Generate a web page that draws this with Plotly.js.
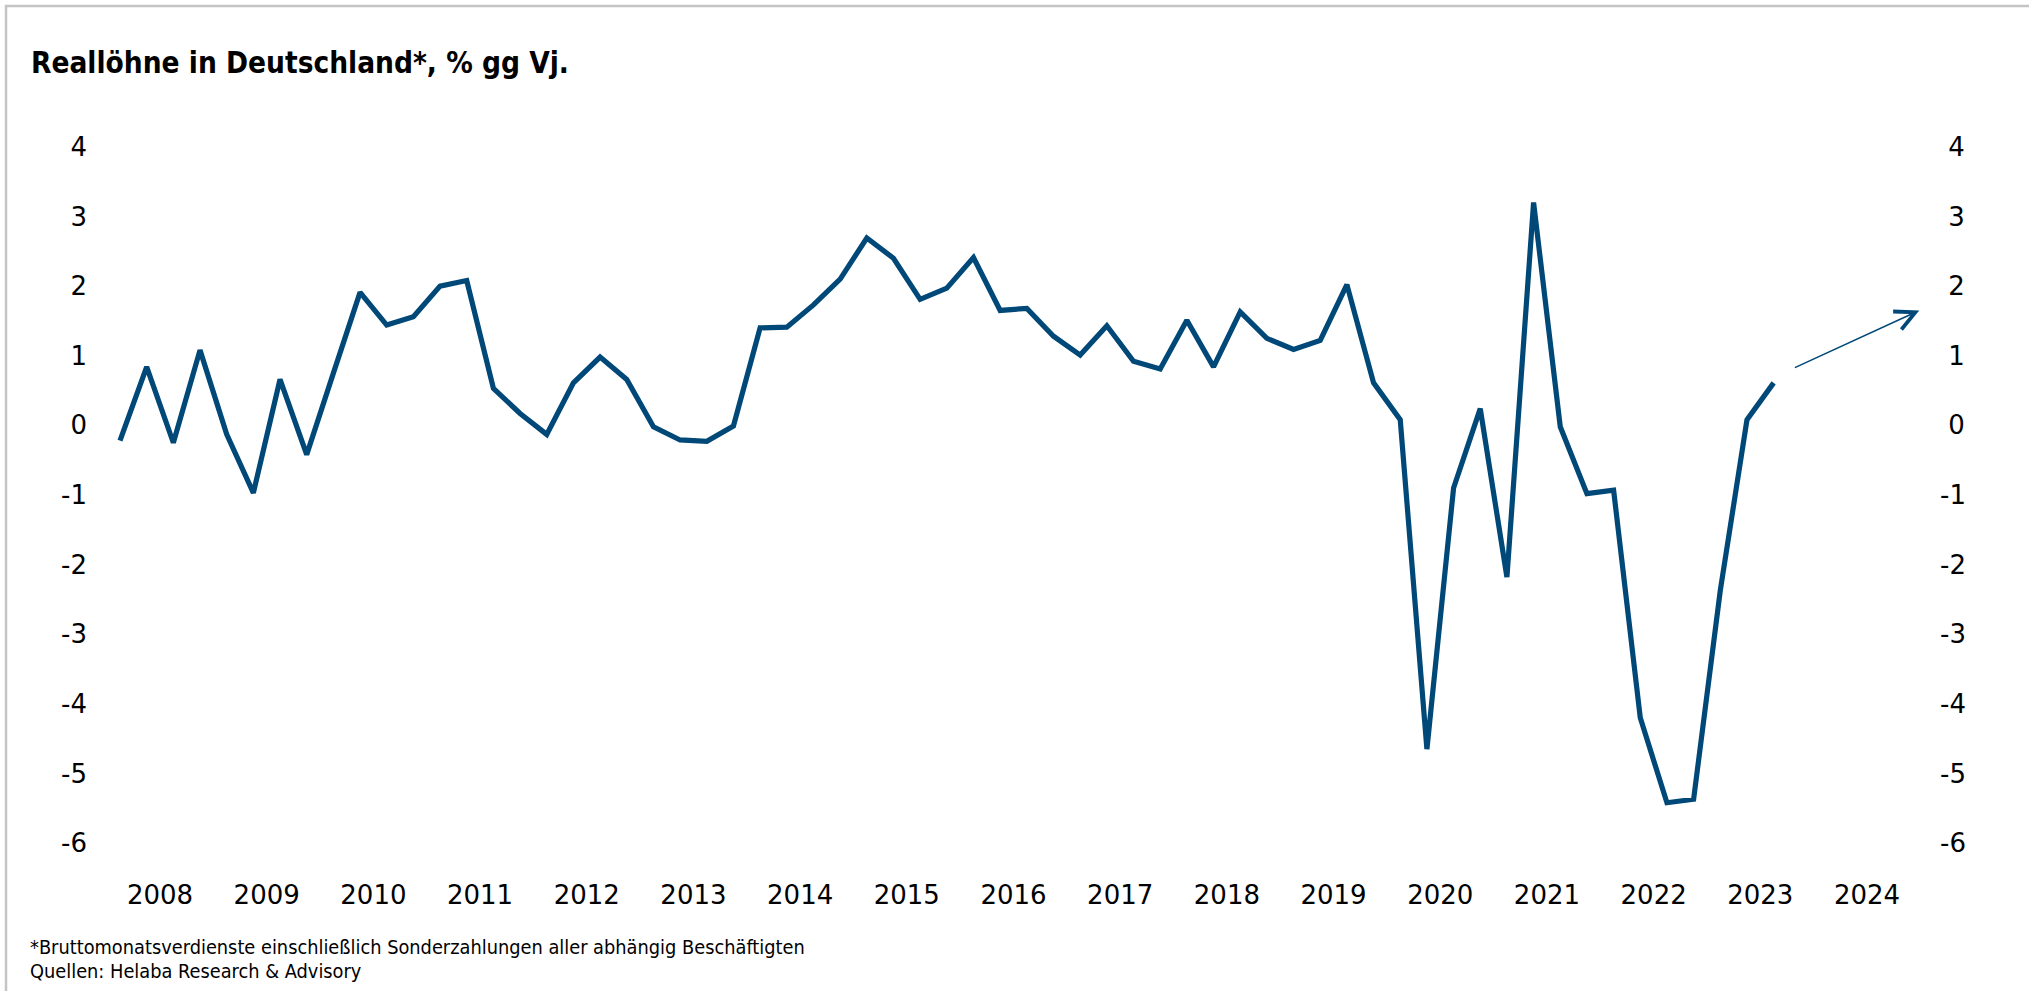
<!DOCTYPE html>
<html>
<head>
<meta charset="utf-8">
<script src="https://cdn.plot.ly/plotly-3.0.1.min.js"></script>
<style>
html,body{margin:0;padding:0;background:#fff;}
#chart{width:2029px;height:991px;}
</style>
</head>
<body>
<div id="chart"></div>
<script>
// ---- data ----
const quarterLabels = [
 "2008-Q1","2008-Q2","2008-Q3","2008-Q4",
 "2009-Q1","2009-Q2","2009-Q3","2009-Q4",
 "2010-Q1","2010-Q2","2010-Q3","2010-Q4",
 "2011-Q1","2011-Q2","2011-Q3","2011-Q4",
 "2012-Q1","2012-Q2","2012-Q3","2012-Q4",
 "2013-Q1","2013-Q2","2013-Q3","2013-Q4",
 "2014-Q1","2014-Q2","2014-Q3","2014-Q4",
 "2015-Q1","2015-Q2","2015-Q3","2015-Q4",
 "2016-Q1","2016-Q2","2016-Q3","2016-Q4",
 "2017-Q1","2017-Q2","2017-Q3","2017-Q4",
 "2018-Q1","2018-Q2","2018-Q3","2018-Q4",
 "2019-Q1","2019-Q2","2019-Q3","2019-Q4",
 "2020-Q1","2020-Q2","2020-Q3","2020-Q4",
 "2021-Q1","2021-Q2","2021-Q3","2021-Q4",
 "2022-Q1","2022-Q2","2022-Q3","2022-Q4",
 "2023-Q1","2023-Q2","2023-Q3"
];
const realWageGrowth = [
 -0.22, 0.84, -0.25, 1.08,
 -0.13, -0.97, 0.66, -0.42,
  0.75, 1.91, 1.44, 1.56,
  2.00, 2.08, 0.53, 0.17,
 -0.13, 0.61, 0.98, 0.66,
 -0.02, -0.21, -0.23, -0.01,
  1.40, 1.41, 1.73, 2.10,
  2.69, 2.40, 1.81, 1.97,
  2.41, 1.65, 1.68, 1.28,
  1.01, 1.43, 0.92, 0.81,
  1.51, 0.84, 1.63, 1.25,
  1.09, 1.22, 2.02, 0.61,
  0.08, -4.65, -0.90, 0.24,
 -2.18, 3.20, -0.02, -0.98,
 -0.93, -4.20, -5.42, -5.37,
 -2.37, 0.08, 0.61
];
const yearTickLabels = ["2008","2009","2010","2011","2012","2013","2014","2015","2016",
                        "2017","2018","2019","2020","2021","2022","2023","2024"];
const yTickValues = [-6,-5,-4,-3,-2,-1,0,1,2,3,4];
const yTickLabels = ["-6","-5","-4","-3","-2","-1","0","1","2","3","4"];
// trend arrow (tail, tip) in axis units
const arrowX = [2023.81, 2024.99];
const arrowY = [0.82, 1.65];

const titleText = "Reallöhne in Deutschland*, % gg Vj.";
const footnoteLines = [
 "*Bruttomonatsverdienste einschließlich Sonderzahlungen aller abhängig Beschäftigten",
 "Quellen: Helaba Research & Advisory"
];

// ---- build ----
const W = 2029, H = 991;
const M = {l: 96, r: 98, t: 112, b: 120};
const PW = W - M.l - M.r, PH = H - M.t - M.b;
const px2paperX = p => (p - M.l) / PW;
const px2paperY = p => (H - M.b - p) / PH;

const xVals = quarterLabels.map(s => {
  const [y, q] = s.split("-Q");
  return +y + (+q - 0.5) / 4;
});
const xTickVals = yearTickLabels.map(y => +y + 0.5);

const lineColor = "#004878";
const tickFont = {family: "DejaVu Sans, Verdana, sans-serif", size: 26, color: "#000"};
const textFamily = "DejaVu Sans Condensed, Liberation Sans Narrow, Liberation Sans, sans-serif";

const traces = [
  {
    x: xVals, y: realWageGrowth, type: "scatter", mode: "lines",
    line: {color: lineColor, width: 5.2},
    hoverinfo: "x+y", showlegend: false
  },
  { // empty trace that only carries the right-hand axis
    x: [null], y: [null], type: "scatter", mode: "lines", yaxis: "y2",
    hoverinfo: "skip", showlegend: false
  }
];

const rightLabels = yTickLabels.map(t => t.startsWith("-") ? t : "\u00A0" + t);

const layout = {
  width: W, height: H,
  margin: M,
  paper_bgcolor: "#fff", plot_bgcolor: "#fff",
  showlegend: false,
  title: {
    text: "<b>" + titleText + "</b>",
    font: {family: textFamily, size: 29.5, color: "#000"},
    xref: "container", yref: "container",
    x: 31 / W, xanchor: "left",
    y: 1 - 63 / H, yanchor: "middle"
  },
  xaxis: {
    range: [2007.9, 2025.1], showgrid: false, zeroline: false, showline: false,
    ticks: "", tickmode: "array", tickvals: xTickVals, ticktext: yearTickLabels,
    tickfont: tickFont, ticklabelstandoff: 6, fixedrange: true
  },
  yaxis: {
    range: [-6.4, 4.5], showgrid: false, zeroline: false, showline: false,
    ticks: "", tickmode: "array", tickvals: yTickValues, ticktext: yTickLabels,
    tickfont: tickFont, ticklabelstandoff: 8, fixedrange: true
  },
  yaxis2: {
    range: [-6.4, 4.5], overlaying: "y", side: "right", anchor: "x",
    showgrid: false, zeroline: false, showline: false,
    ticks: "", tickmode: "array", tickvals: yTickValues, ticktext: rightLabels,
    tickfont: tickFont, ticklabelstandoff: 8, fixedrange: true
  },
  annotations: [
    {
      x: arrowX[1], y: arrowY[1], ax: arrowX[0], ay: arrowY[0],
      xref: "x", yref: "y", axref: "x", ayref: "y",
      text: "", showarrow: true, arrowhead: 5, arrowsize: 2.6, arrowwidth: 1.5,
      arrowcolor: lineColor, standoff: 0
    },
    {
      text: footnoteLines[0], xref: "paper", yref: "paper",
      x: px2paperX(28), xanchor: "left", y: px2paperY(947), yanchor: "middle",
      showarrow: false, font: {family: textFamily, size: 19.8, color: "#000"}
    },
    {
      text: footnoteLines[1], xref: "paper", yref: "paper",
      x: px2paperX(28), xanchor: "left", y: px2paperY(971), yanchor: "middle",
      showarrow: false, font: {family: textFamily, size: 19.8, color: "#000"}
    }
  ],
  shapes: [
    {type: "line", xref: "paper", yref: "paper",
     x0: px2paperX(5), x1: px2paperX(W), y0: px2paperY(6), y1: px2paperY(6),
     line: {color: "#c4c4c4", width: 2.5}},
    {type: "line", xref: "paper", yref: "paper",
     x0: px2paperX(6), x1: px2paperX(6), y0: px2paperY(5), y1: px2paperY(H),
     line: {color: "#c4c4c4", width: 2.5}}
  ]
};

Plotly.newPlot("chart", traces, layout, {displayModeBar: false, staticPlot: true});
</script>
</body>
</html>
